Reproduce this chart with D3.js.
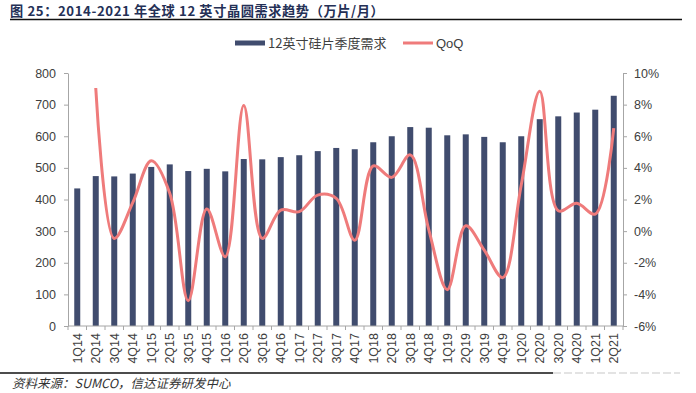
<!DOCTYPE html>
<html>
<head>
<meta charset="utf-8">
<script src="https://cdn.jsdelivr.net/npm/d3@7"></script>
<style>
  body { margin: 0; background: #fff; }
  svg { display: block; font-family: "Liberation Sans", Arial, sans-serif; }
</style>
</head>
<body>
<svg id="chart"></svg>
<script>
// quarters
var quarters = ["1Q14","2Q14","3Q14","4Q14","1Q15","2Q15","3Q15","4Q15","1Q16","2Q16",
                "3Q16","4Q16","1Q17","2Q17","3Q17","4Q17","1Q18","2Q18","3Q18","4Q18",
                "1Q19","2Q19","3Q19","4Q19","1Q20","2Q20","3Q20","4Q20","1Q21","2Q21"];

// 12英寸硅片季度需求 (万片/月)
var demand = [435, 474, 473, 482, 503, 511, 490, 497, 489, 528,
              527, 534, 540, 553, 563, 559, 581, 600, 629, 627,
              603, 606, 598, 581, 600, 654, 663, 675, 684, 728];

// QoQ (%), first quarter has no value
var qoq = [null, 9.05, -0.46, 1.8, 4.45, 2.4, -4.4, 1.4, -1.62, 7.95,
           -0.46, 1.33, 1.23, 2.28, 2.07, -0.57, 4.12, 3.4, 4.82, 0.1,
           -3.7, 0.34, -1.2, -2.94, 2.92, 8.84, 1.29, 1.76, 1.08, 6.51];

var leftTicks = [0, 100, 200, 300, 400, 500, 600, 700, 800];
var rightTicks = [-6, -4, -2, 0, 2, 4, 6, 8, 10];

var W = 696, H = 393;
var plot = { left: 68, right: 623, top: 73, bottom: 326 };

var barColor = "#404c6e";
var lineColor = "#ef7b7b";
var axisColor = "#a6a6a6";
var textColor = "#404040";

var svg = d3.select("#chart").attr("width", W).attr("height", H);

// title
svg.append("text")
   .attr("x", 10)
   .attr("y", 15.5)
   .text("图 25：2014-2021 年全球 12 英寸晶圆需求趋势（万片/月）")
   .attr("fill", "#243056")
   .style("font-size", "13.2px")
   .style("letter-spacing", "0.6px")
   .style("font-weight", "bold")
   .style("font-family", "'Noto Sans CJK SC', 'Liberation Sans', sans-serif");

svg.append("line")
   .attr("x1", 10).attr("x2", 682)
   .attr("y1", 19.5).attr("y2", 19.5)
   .attr("stroke", "#111").attr("stroke-width", 1.6);

// scales
var xScale = d3.scaleBand()
               .domain(quarters)
               .range([plot.left, plot.right]);

var yLeft = d3.scaleLinear()
              .domain([0, 800])
              .range([plot.bottom, plot.top]);

var yRight = d3.scaleLinear()
               .domain([-6, 10])
               .range([plot.bottom, plot.top]);

var barWidth = 6;

// bars
svg.append("g")
   .selectAll("rect")
   .data(demand)
   .enter()
   .append("rect")
   .attr("x", function(d, i) { return xScale(quarters[i]) + xScale.bandwidth() / 2 - barWidth / 2; })
   .attr("y", function(d) { return yLeft(d); })
   .attr("width", barWidth)
   .attr("height", function(d) { return yLeft(0) - yLeft(d); })
   .attr("fill", barColor);

// left axis
var leftAxis = svg.append("g")
   .attr("transform", "translate(" + plot.left + ",0)")
   .call(d3.axisLeft(yLeft).tickValues(leftTicks).tickSize(4).tickPadding(8).tickSizeOuter(0));

// right axis
var rightAxis = svg.append("g")
   .attr("transform", "translate(" + plot.right + ",0)")
   .call(d3.axisRight(yRight).tickValues(rightTicks).tickSize(4).tickPadding(7).tickSizeOuter(0)
         .tickFormat(function(d) { return d + "%"; }));

// x axis with ticks between categories
var xAxis = svg.append("g")
   .attr("transform", "translate(0," + plot.bottom + ")");

xAxis.append("line")
     .attr("x1", plot.left).attr("x2", plot.right)
     .attr("y1", 0).attr("y2", 0)
     .attr("stroke", axisColor);

xAxis.selectAll(".xtick")
     .data(quarters.concat(["end"]))
     .enter()
     .append("line")
     .attr("x1", function(d, i) { return plot.left + i * xScale.step(); })
     .attr("x2", function(d, i) { return plot.left + i * xScale.step(); })
     .attr("y1", 0).attr("y2", 4)
     .attr("stroke", axisColor);

xAxis.selectAll(".xlabel")
     .data(quarters)
     .enter()
     .append("text")
     .attr("transform", function(d) {
        return "translate(" + (xScale(d) + xScale.bandwidth() / 2 + 4.5) + ",7) rotate(-90)";
     })
     .attr("text-anchor", "end")
     .attr("fill", textColor)
     .style("font-size", "12.5px")
     .text(function(d) { return d; });

[leftAxis, rightAxis].forEach(function(ax) {
  ax.select(".domain").attr("stroke", axisColor);
  ax.selectAll(".tick line").attr("stroke", axisColor);
  ax.selectAll(".tick text")
    .attr("fill", textColor)
    .style("font-size", "12.5px")
    .style("font-family", "'Liberation Sans', Arial, sans-serif");
});

// QoQ line (smoothed like the spreadsheet chart)
var line = d3.line()
             .defined(function(d) { return d != null; })
             .x(function(d, i) { return xScale(quarters[i]) + xScale.bandwidth() / 2; })
             .y(function(d) { return yRight(d); })
             .curve(d3.curveCatmullRom.alpha(0.5));

svg.append("path")
   .datum(qoq)
   .attr("d", line)
   .attr("fill", "none")
   .attr("stroke", lineColor)
   .attr("stroke-width", 3)
   .attr("stroke-linejoin", "round");

// legend
var legend = svg.append("g").attr("transform", "translate(0,43)");

legend.append("rect")
      .attr("x", 235).attr("y", -2.5)
      .attr("width", 30).attr("height", 5)
      .attr("fill", barColor);

legend.append("text")
      .attr("x", 268).attr("y", 5)
      .text("12英寸硅片季度需求")
      .attr("fill", textColor)
      .style("font-size", "13px")
      .style("font-family", "'Noto Sans CJK SC', 'Liberation Sans', sans-serif");

legend.append("line")
      .attr("x1", 403).attr("x2", 433)
      .attr("y1", 0).attr("y2", 0)
      .attr("stroke", lineColor)
      .attr("stroke-width", 3);

legend.append("text")
      .attr("x", 436).attr("y", 5)
      .text("QoQ")
      .attr("fill", textColor)
      .style("font-size", "13px");

// footer
svg.append("line")
   .attr("x1", 0).attr("x2", 553)
   .attr("y1", 373).attr("y2", 373)
   .attr("stroke", "#111").attr("stroke-width", 1.6);

svg.append("line")
   .attr("x1", 553).attr("x2", 680)
   .attr("y1", 373).attr("y2", 373)
   .attr("stroke", "#c8c8c8").attr("stroke-width", 1.2)
   .attr("stroke-dasharray", "8,3");

svg.append("text")
   .attr("x", 12)
   .attr("y", 388)
   .text("资料来源：SUMCO，信达证券研发中心")
   .attr("fill", "#333")
   .style("font-size", "12.5px")
   .style("font-style", "italic")
   .style("font-family", "'Noto Sans CJK SC', 'Liberation Sans', sans-serif");
</script>
</body>
</html>
